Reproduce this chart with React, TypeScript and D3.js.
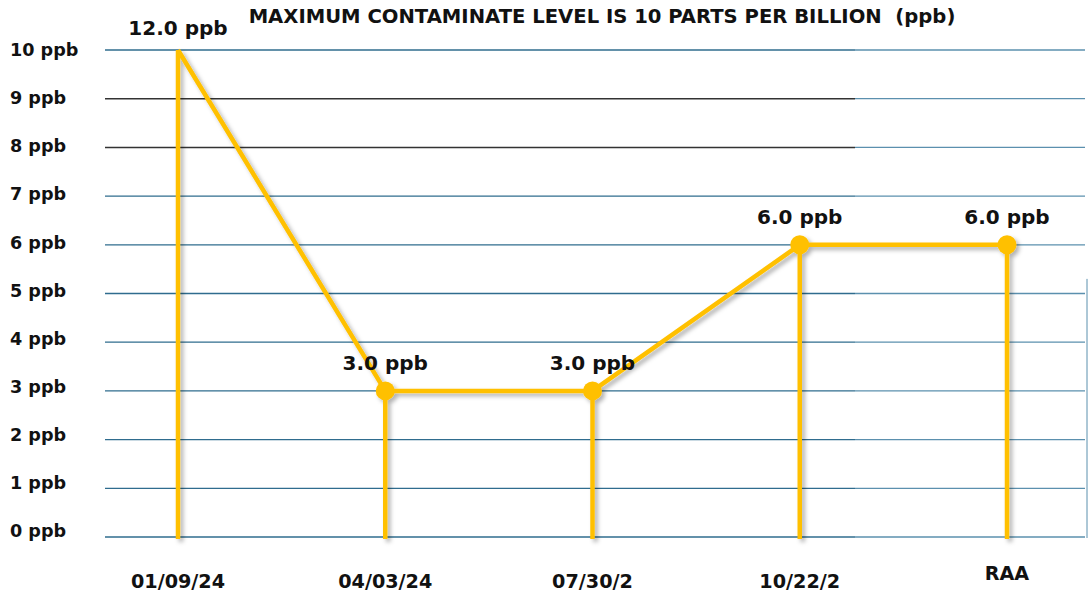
import { line, scaleLinear, scalePoint } from "d3";

const W = 1090;
const H = 594;

const TITLE = "MAXIMUM CONTAMINATE LEVEL IS 10 PARTS PER BILLION  (ppb)";
const dates = ["01/09/24", "04/03/24", "07/30/2", "10/22/2", "RAA"];
const levels = [12.0, 3.0, 3.0, 6.0, 6.0];
const yTicks = [0, 1, 2, 3, 4, 5, 6, 7, 8, 9, 10];
const darkTicks = [8, 9];
const YMAX = 10;

const GOLD = "#FFC000";
const GRID = "#2f6c8e";
const GRID_R = "#5b90ae";
const FONT = "'DejaVu Sans', sans-serif";

export default function App() {
  const x = scalePoint<string>().domain(dates).range([178, 1007]);
  const y = scaleLinear().domain([0, YMAX]).range([537, 50]).clamp(true);
  const yLab = y.copy().range([531, 50]);
  const gridL = 105;
  const gridSplit = 855;
  const gridR = 1085;

  const pts = dates.map((d, i) => ({ d, v: levels[i], i }));
  const path = line<(typeof pts)[number]>()
    .x((p) => x(p.d) ?? 0)
    .y((p) => y(p.v))(pts) ?? "";

  return (
    <svg
      width={W}
      height={H}
      viewBox={`0 0 ${W} ${H}`}
      style={{ position: "absolute", left: 0, top: 0, background: "#fff" }}
      fontFamily={FONT}
      fontWeight="bold"
    >
      <defs>
        <filter id="sh" x="-20%" y="-20%" width="140%" height="140%">
          <feDropShadow dx={3} dy={3} stdDeviation={2} floodColor="#000" floodOpacity={0.3} />
        </filter>
      </defs>

      <text x={602} y={23} textAnchor="middle" fontSize={19.6} fill="#111" style={{ whiteSpace: "pre" }}>
        {TITLE}
      </text>

      {/* grid */}
      {yTicks.map((t) => {
        const dark = darkTicks.includes(t);
        return (
          <g key={t}>
            <line x1={gridL} x2={gridSplit} y1={y(t)} y2={y(t)} stroke={dark ? "#333" : GRID} strokeWidth={dark ? 1.5 : 1.3} />
            <line x1={gridSplit} x2={gridR} y1={y(t)} y2={y(t)} stroke={GRID_R} strokeWidth={1.3} />
            <text x={10} y={yLab(t)} dy="0.35em" fontSize={17.6} fill="#111">
              {`${t} ppb`}
            </text>
          </g>
        );
      })}
      <line x1={1087} x2={1087} y1={y(5.3)} y2={y(0) + 1} stroke={GRID_R} strokeWidth={1} />

      {/* x labels */}
      {dates.map((d) => (
        <text key={d} x={x(d)} y={d === "RAA" ? 580 : 588} textAnchor="middle" fontSize={19.2} fill="#111">
          {d}
        </text>
      ))}

      {/* series */}
      <g filter="url(#sh)">
        {pts.map((p) => (
          <line key={`v${p.i}`} x1={x(p.d)} x2={x(p.d)} y1={y(p.v)} y2={y(0) + 2} stroke={GOLD} strokeWidth={4.5} />
        ))}
        <path d={path} fill="none" stroke={GOLD} strokeWidth={4.5} strokeLinejoin="round" />
        {pts.slice(1).map((p) => (
          <circle key={`c${p.i}`} cx={x(p.d)} cy={y(p.v)} r={9.5} fill={GOLD} />
        ))}
      </g>

      {pts.map((p) => (
        <text key={`l${p.i}`} x={x(p.d) ?? 0} y={y(p.v) - (p.i === 0 ? 15 : 21)} textAnchor="middle" fontSize={20} fill="#111">
          {`${p.v.toFixed(1)} ppb`}
        </text>
      ))}
    </svg>
  );
}
